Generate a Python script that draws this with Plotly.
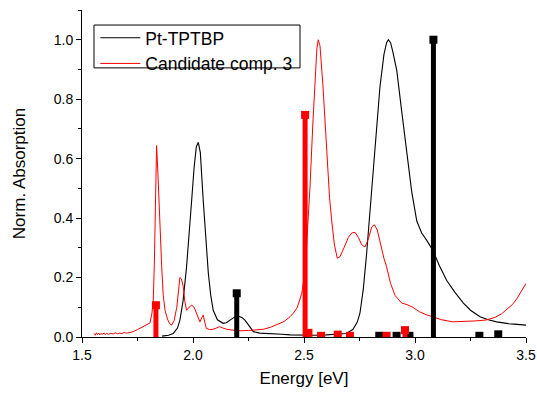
import plotly.graph_objects as go

# Measured absorption spectrum of Pt-TPTBP (energy in eV, normalised absorbance)
pt_energy = [1.86, 1.89, 1.911, 1.93, 1.941, 1.955, 1.971, 1.985, 1.994, 2.005, 2.015, 2.024,
             2.033, 2.046, 2.058, 2.069, 2.08, 2.091, 2.11, 2.136, 2.15, 2.167, 2.185, 2.204,
             2.22, 2.234, 2.25, 2.272, 2.3, 2.347, 2.4, 2.437, 2.5, 2.55, 2.6, 2.65, 2.69, 2.72,
             2.74, 2.752, 2.767, 2.782, 2.797, 2.812, 2.827, 2.842, 2.86, 2.872, 2.88, 2.89,
             2.9, 2.918, 2.94, 2.963, 2.985, 3.008, 3.03, 3.053, 3.08, 3.11, 3.143, 3.18,
             3.218, 3.25, 3.293, 3.33, 3.368, 3.42, 3.46, 3.5]
pt_abs = [0.003, 0.006, 0.012, 0.03, 0.057, 0.12, 0.236, 0.36, 0.46, 0.57, 0.64, 0.655,
          0.62, 0.46, 0.31, 0.215, 0.14, 0.09, 0.058, 0.046, 0.048, 0.057, 0.066, 0.07,
          0.066, 0.057, 0.04, 0.018, 0.013, 0.01, 0.009, 0.007, 0.006, 0.006, 0.007, 0.009,
          0.012, 0.025, 0.05, 0.08, 0.16, 0.28, 0.42, 0.56, 0.70, 0.84, 0.95, 0.99, 1.0,
          0.99, 0.96, 0.896, 0.76, 0.617, 0.49, 0.39, 0.35, 0.325, 0.292, 0.24, 0.19, 0.15,
          0.114, 0.09, 0.068, 0.058, 0.051, 0.045, 0.042, 0.04]

# Measured absorption spectrum of candidate compound 3
c3_energy = [1.555, 1.56, 1.565, 1.57, 1.575, 1.58, 1.585, 1.59, 1.6, 1.605, 1.61, 1.62,
             1.63, 1.64, 1.65, 1.66, 1.67, 1.68, 1.69, 1.7, 1.716, 1.73, 1.75, 1.77, 1.79,
             1.806, 1.815, 1.821, 1.826, 1.831, 1.836, 1.842, 1.85, 1.859, 1.866, 1.874,
             1.885, 1.895, 1.904, 1.915, 1.927, 1.935, 1.941, 1.948, 1.956, 1.963, 1.971,
             1.982, 1.994, 2.005, 2.017, 2.031, 2.04, 2.046, 2.053, 2.06, 2.075, 2.09, 2.105,
             2.12, 2.135, 2.152, 2.18, 2.212, 2.25, 2.28, 2.317, 2.35, 2.38, 2.41, 2.437,
             2.452, 2.47, 2.49, 2.505, 2.515, 2.527, 2.54, 2.55, 2.558, 2.564, 2.572, 2.585,
             2.602, 2.615, 2.625, 2.637, 2.65, 2.662, 2.68, 2.7, 2.715, 2.73, 2.745, 2.76,
             2.775, 2.79, 2.805, 2.817, 2.83, 2.845, 2.86, 2.872, 2.89, 2.91, 2.925, 2.94,
             2.96, 2.99, 3.02, 3.05, 3.08, 3.12, 3.17, 3.22, 3.27, 3.32, 3.36, 3.39, 3.41,
             3.44, 3.46, 3.48, 3.5]
c3_abs = [0.012, 0.006, 0.014, 0.008, 0.013, 0.007, 0.012, 0.009, 0.013, 0.008, 0.012, 0.009,
          0.013, 0.01, 0.014, 0.011, 0.013, 0.012, 0.015, 0.013, 0.015, 0.018, 0.025, 0.033,
          0.04, 0.047, 0.08, 0.124, 0.25, 0.5, 0.644, 0.55, 0.38, 0.236, 0.14, 0.09, 0.06,
          0.045, 0.04, 0.055, 0.1, 0.17, 0.2, 0.195, 0.17, 0.12, 0.09, 0.1, 0.107, 0.1, 0.08,
          0.051, 0.065, 0.074, 0.05, 0.029, 0.025, 0.026, 0.03, 0.035, 0.03, 0.026, 0.023,
          0.021, 0.022, 0.024, 0.026, 0.033, 0.042, 0.052, 0.068, 0.08, 0.1, 0.147, 0.22,
          0.34, 0.505, 0.72, 0.88, 0.97, 1.0, 0.98, 0.85, 0.617, 0.47, 0.39, 0.31, 0.265,
          0.27, 0.3, 0.335, 0.35, 0.352, 0.335, 0.31, 0.303, 0.33, 0.37, 0.378, 0.36, 0.31,
          0.265, 0.236, 0.18, 0.14, 0.125, 0.114, 0.11, 0.1, 0.085, 0.075, 0.068, 0.058,
          0.051, 0.052, 0.054, 0.057, 0.066, 0.078, 0.09, 0.11, 0.13, 0.155, 0.18]

# Calculated transitions (energy, normalised oscillator strength)
pt_stick_energy = [2.197, 2.839, 2.917, 2.975, 3.083, 3.29, 3.375]
pt_stick_f = [0.147, 0.004, 0.004, 0.004, 1.0, 0.004, 0.009]
c3_stick_energy = [1.833, 2.505, 2.52, 2.577, 2.652, 2.707, 2.872, 2.955]
c3_stick_f = [0.107, 0.747, 0.014, 0.004, 0.008, 0.004, 0.004, 0.023]

x_ticks = [1.5, 2.0, 2.5, 3.0, 3.5]
y_ticks = [0.0, 0.2, 0.4, 0.6, 0.8, 1.0]

FONT = "Liberation Sans, Arial, sans-serif"


def stick_xy(energies, strengths):
    xs, ys = [], []
    for e, f in zip(energies, strengths):
        xs += [e, e, None]
        ys += [0, f, None]
    return xs, ys


fig = go.Figure()

fig.add_trace(go.Scatter(x=pt_energy, y=pt_abs, mode="lines", name="Pt-TPTBP",
                         line=dict(color="black", width=1.1)))
fig.add_trace(go.Scatter(x=c3_energy, y=c3_abs, mode="lines", name="Candidate comp. 3",
                         line=dict(color="red", width=1)))

for energies, strengths, color in [(pt_stick_energy, pt_stick_f, "black"),
                                   (c3_stick_energy, c3_stick_f, "red")]:
    sx, sy = stick_xy(energies, strengths)
    fig.add_trace(go.Scatter(x=sx, y=sy, mode="lines", showlegend=False,
                             line=dict(color=color, width=5)))
    fig.add_trace(go.Scatter(x=energies, y=strengths, mode="markers", showlegend=False,
                             marker=dict(symbol="square", size=8, color=color,
                                         line=dict(width=0))))

axis_common = dict(showline=True, linecolor="black", linewidth=1, ticks="outside",
                   ticklen=5, tickwidth=1, tickcolor="black", showgrid=False,
                   zeroline=False, automargin=False,
                   tickfont=dict(size=14, color="black", family=FONT))

fig.update_xaxes(range=[1.5, 3.5], tickvals=x_ticks,
                 ticktext=[f"{v:.1f}" for v in x_ticks],
                 minor=dict(ticks="outside", ticklen=3, dtick=0.25, tick0=1.5,
                            tickcolor="black"),
                 title=dict(text="Energy [eV]", font=dict(size=17, color="black", family=FONT),
                            standoff=10),
                 **axis_common)
fig.update_yaxes(range=[0, 1.1], tickvals=y_ticks,
                 ticktext=[f"{v:.1f}" for v in y_ticks],
                 minor=dict(ticks="outside", ticklen=3, dtick=0.1, tick0=0,
                            tickcolor="black"),
                 title=dict(text="Norm. Absorption", font=dict(size=17, color="black", family=FONT),
                            standoff=23),
                 **axis_common)

# Legend frame drawn as a paper-space rectangle so it hugs the two entries
fig.add_shape(type="rect", xref="paper", yref="paper",
              x0=0.027, x1=0.491, y0=0.823, y1=0.954,
              line=dict(color="black", width=1), fillcolor="white", layer="below")

fig.update_layout(
    width=537, height=394,
    margin=dict(l=82, r=11, t=10, b=57),
    paper_bgcolor="white", plot_bgcolor="white",
    font=dict(family=FONT, color="black"),
    legend=dict(x=0.03, y=0.970, xanchor="left", yanchor="top",
                borderwidth=0, bgcolor="rgba(0,0,0,0)",
                font=dict(size=17.5, color="black", family=FONT),
                itemwidth=40, tracegroupgap=0),
)

fig.write_html("out.html")
